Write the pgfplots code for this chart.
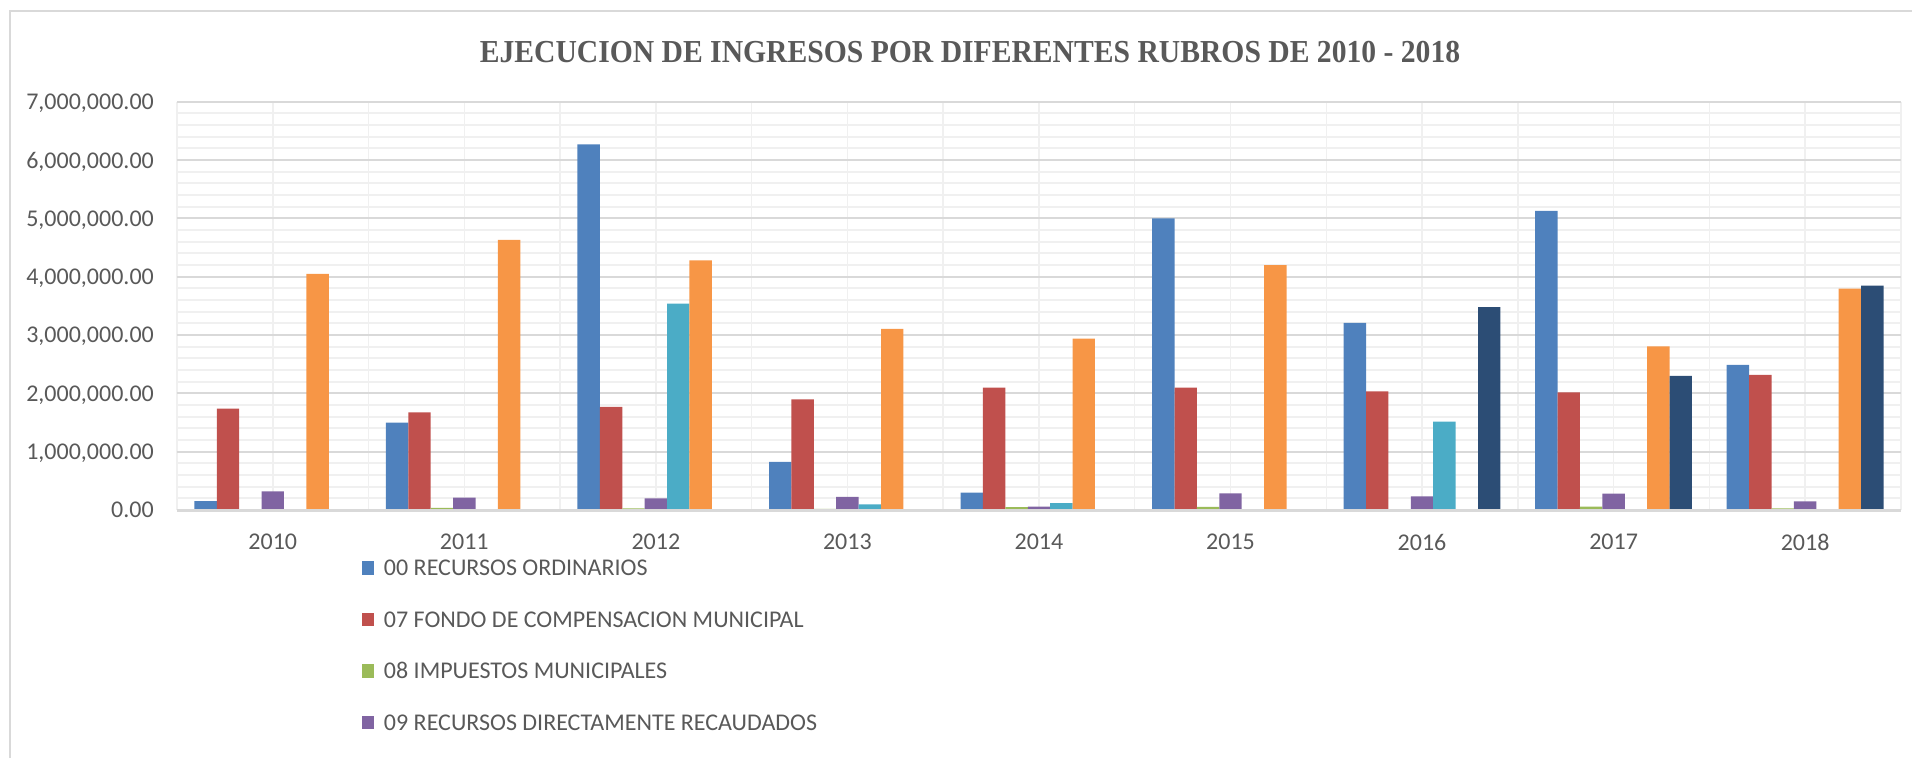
\documentclass[border=0pt]{standalone}
\usepackage{fontspec}
\setmainfont{Carlito}
\newfontfamily\titlefont{Liberation Serif}
\usepackage{pgfplots}
\pgfplotsset{compat=1.18}
\usepackage{pgfplotstable}
\definecolor{txt}{HTML}{595959}
\definecolor{gridM}{HTML}{D9D9D9}
\definecolor{gridL}{HTML}{F0F0F0}
\definecolor{c1}{HTML}{4F81BD}
\definecolor{c2}{HTML}{C0504D}
\definecolor{c3}{HTML}{9BBB59}
\definecolor{c4}{HTML}{8064A2}
\definecolor{c5}{HTML}{4BACC6}
\definecolor{c6}{HTML}{F79646}
\definecolor{c7}{HTML}{2C4D75}

\pgfplotstableread{
x  a       b       c      d      e       f       g
0  153000  1740000 0      318000 0       4050000 0
1  1500000 1675000 35000  214000 0       4630000 0
2  6270000 1770000 30000  200000 3540000 4280000 0
3  825000  1895000 20000  226000 98000   3105000 0
4  300000  2100000 50000  60000  116000  2940000 0
5  5000000 2100000 55000  287000 0       4200000 0
6  3210000 2035000 10000  232000 1516000 0       3478000
7  5130000 2017000 60000  280000 0       2806000 2300000
8  2488000 2317000 30000  147000 0       3796000 3845000
}\data

\begin{document}
\begin{tikzpicture}
\path[use as bounding box] (0pt,0pt) rectangle (1912pt,758pt);
\draw[color=gridM, line width=2pt] (10pt,0pt) -- (10pt,747pt) -- (1912pt,747pt);
\node[text=txt, font=\titlefont\bfseries\fontsize{32}{38}\selectfont, inner sep=0pt] at (970pt,706pt) {\scalebox{0.926}[1]{EJECUCION DE INGRESOS POR DIFERENTES RUBROS DE 2010 - 2018}};
\begin{axis}[
  at={(177pt,248pt)}, anchor=south west,
  scale only axis, width=1724pt, height=408.3pt,
  xmin=-0.5, xmax=8.5, ymin=0, ymax=7000000,
  clip=false,
  ytick={0,1000000,2000000,3000000,4000000,5000000,6000000,7000000},
  minor y tick num=4,
  xtick={0,1,2,3,4,5,6,7,8},
  xticklabels={2010,2011,2012,2013,2014,2015,2016,2017,2018},
  minor xtick={-0.5,0.5,1.5,2.5,3.5,4.5,5.5,6.5,7.5,8.5},
  grid=both,
  major x grid style={color=gridL, line width=1.5pt},
  minor x grid style={color=gridL, line width=1.5pt},
  major y grid style={color=gridM, line width=2pt},
  minor y grid style={color=gridL, line width=2pt},
  axis line style={draw=none},
  major tick length=0pt, minor tick length=0pt,
  tick label style={font=\fontsize{24}{28}\selectfont, text=txt, inner sep=0pt},
  yticklabel style={anchor=east, xshift=-23pt, text depth=0pt},
  xticklabel style={anchor=center, yshift=-32pt},
  scaled y ticks=false,
  /pgf/number format/assume math mode=true,
  yticklabel={\pgfmathprintnumber[fixed,fixed zerofill,precision=2,1000 sep={,}]{\tick}},
  ybar=0pt, bar width=22.4pt,
  legend image code/.code={\fill[#1] (0pt,-6.75pt) rectangle (12pt,6.75pt);},
  legend style={at={(0.1073,-0.1225)}, anchor=north west, draw=none, fill=none,
    inner sep=0pt, outer sep=0pt, row sep=36pt, column sep=10pt,
    font=\fontsize{24}{28}\selectfont, text=txt,
    nodes={inner sep=0pt, text height=15.5pt, text depth=0pt}},
  legend cell align=left,
  legend entries={00 RECURSOS ORDINARIOS, 07 FONDO DE COMPENSACION MUNICIPAL, 08 IMPUESTOS MUNICIPALES, 09 RECURSOS DIRECTAMENTE RECAUDADOS},
]
\addplot[fill=c1, draw=none] table[x=x, y=a] {\data};
\addplot[fill=c2, draw=none] table[x=x, y=b] {\data};
\addplot[fill=c3, draw=none] table[x=x, y=c] {\data};
\addplot[fill=c4, draw=none] table[x=x, y=d] {\data};
\addplot[fill=c5, draw=none] table[x=x, y=e] {\data};
\addplot[fill=c6, draw=none] table[x=x, y=f] {\data};
\addplot[fill=c7, draw=none] table[x=x, y=g] {\data};
\draw[color=gridM, line width=3pt] (rel axis cs:0,0) -- (rel axis cs:1,0);
\end{axis}
\end{tikzpicture}
\end{document}
